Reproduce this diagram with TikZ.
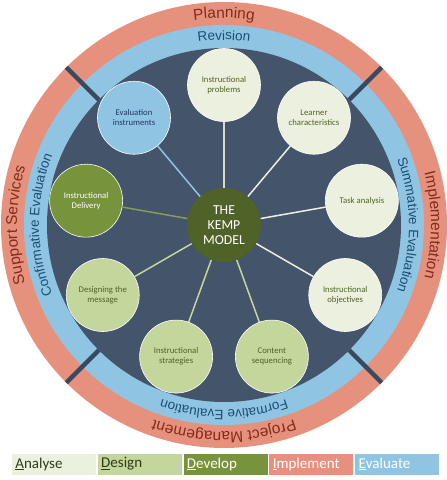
\documentclass[tikz,border=0pt]{standalone}
\usepackage{fontspec}
\setmainfont{Carlito}
\newfontfamily\ringfont{Liberation Sans}
\usetikzlibrary{decorations.text,positioning}

\definecolor{ringpink}{HTML}{E6917D}
\definecolor{ringblue}{HTML}{8FC5E3}
\definecolor{navy}{HTML}{44546A}
\definecolor{divider}{HTML}{384960}
\definecolor{analyse}{HTML}{EBF1DE}
\definecolor{design}{HTML}{C3D69B}
\definecolor{develop}{HTML}{77933C}
\definecolor{kempgreen}{HTML}{4F6228}
\definecolor{olivetext}{HTML}{4F6228}
\definecolor{evaltext}{HTML}{1F3864}
\definecolor{pinktext}{HTML}{842B1C}
\definecolor{bluetext}{HTML}{1B4F72}

\newcommand\pinkfont{\ringfont\fontsize{15.5}{18}\selectfont\color{pinktext}}
\newcommand\bluefont{\ringfont\fontsize{13.5}{16}\selectfont\color{bluetext}}

\begin{document}
\begin{tikzpicture}[x=1pt,y=1pt,
  sat/.style={circle,minimum size=73pt,inner sep=0pt,align=center,font=\fontsize{8.7}{10}\selectfont,draw=white,line width=0.6pt},
  ana/.style={sat,fill=analyse,text=olivetext},
  des/.style={sat,fill=design,text=olivetext},
  dev/.style={sat,fill=develop,text=white},
  eva/.style={sat,fill=ringblue,text=evaltext},
  legend/.style={rectangle,minimum height=22pt,text width=77pt,inner sep=4pt,align=left,font=\fontsize{15}{18}\selectfont,draw=white,line width=0.8pt}]
\def\rOut{223}
\def\rMid{200}
\def\rIn{177}
\def\rSat{140}
\def\rPink{207}
\def\rBlue{185}
\useasboundingbox (-224,-255) rectangle (223,225);

% rings
\fill[ringpink] (0,0) circle (\rOut);
\fill[ringblue] (0,0) circle (\rMid);
\fill[navy] (0,0) circle (\rIn);

\begin{scope}[divider,line width=4.5pt]
\draw (45:\rIn) -- (45:\rOut);
\draw (135:\rIn) -- (135:\rOut);
\draw (225:\rIn) -- (225:\rOut);
\draw (315:\rIn) -- (315:\rOut);
\end{scope}

% ring labels
\path[decorate,decoration={text along path,text align=center,text={|\pinkfont|Planning}}] (135:\rPink) arc[start angle=135,end angle=45,radius=\rPink];
\path[decorate,decoration={text along path,text align=center,text={|\pinkfont|Implementation}}] (45:\rPink) arc[start angle=45,end angle=-45,radius=\rPink];
\path[decorate,decoration={text along path,text align=center,text={|\pinkfont|Project Management}}] (-45:\rPink) arc[start angle=-45,end angle=-135,radius=\rPink];
\path[decorate,decoration={text along path,text align=center,text={|\pinkfont|Support Services}}] (225:\rPink) arc[start angle=225,end angle=135,radius=\rPink];
\path[decorate,decoration={text along path,text align=center,text={|\bluefont|Revision}}] (135:\rBlue) arc[start angle=135,end angle=45,radius=\rBlue];
\path[decorate,decoration={text along path,text align=center,text={|\bluefont|Summative Evaluation}}] (45:\rBlue) arc[start angle=45,end angle=-45,radius=\rBlue];
\path[decorate,decoration={text along path,text align=center,text={|\bluefont|Formative Evaluation}}] (-45:\rBlue) arc[start angle=-45,end angle=-135,radius=\rBlue];
\path[decorate,decoration={text along path,text align=center,text={|\bluefont|Confirmative Evaluation}}] (225:\rBlue) arc[start angle=225,end angle=135,radius=\rBlue];

% the model
\node[circle,minimum size=74pt,inner sep=0pt,fill=kempgreen,text=white,align=center,font=\fontsize{13.7}{15}\selectfont] (kemp) at (0,0) {THE\\KEMP\\MODEL};
\path
(90:\rSat) node[ana] (prob) {Instructional\\problems}
(50:\rSat) node[ana] (learner) {Learner\\characteristics}
(10:\rSat) node[ana] (task) {Task analysis}
(-30:\rSat) node[ana] (obj) {Instructional\\objectives}
(-70:\rSat) node[des] (content) {Content\\sequencing}
(-110:\rSat) node[des] (strat) {Instructional\\strategies}
(-150:\rSat) node[des] (message) {Designing the\\message}
(170:\rSat) node[dev] (delivery) {Instructional\\Delivery}
(130:\rSat) node[eva] (evalinst) {Evaluation\\instruments}
;

\begin{scope}[line width=1.5pt]
\draw[analyse!80!gray] (kemp) -- (prob);
\draw[analyse] (kemp) -- (learner);
\draw[analyse] (kemp) -- (task);
\draw[analyse] (kemp) -- (obj);
\draw[design] (kemp) -- (content);
\draw[design] (kemp) -- (strat);
\draw[design] (kemp) -- (message);
\draw[develop!90!white] (kemp) -- (delivery);
\draw[ringblue] (kemp) -- (evalinst);
\end{scope}

% legend
\node[legend,fill=analyse,text=kempgreen!60!black,anchor=west] (leg1) at (-213,-239) {\underline{A}nalyse};
\node[legend,fill=design,text=kempgreen!60!black,right=0pt of leg1] (leg2) {\underline{D}esign};
\node[legend,fill=develop,text=white,right=0pt of leg2] (leg3) {\underline{D}evelop};
\node[legend,fill=ringpink,text=white,right=0pt of leg3] (leg4) {\underline{I}mplement};
\node[legend,fill=ringblue,text=white,right=0pt of leg4] (leg5) {\underline{E}valuate};
\end{tikzpicture}
\end{document}
